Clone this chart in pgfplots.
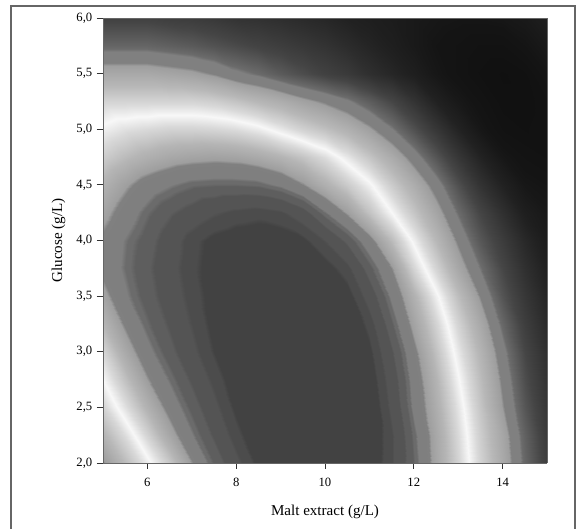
\documentclass[border=0pt]{standalone}
\usepackage{fontspec}
\setmainfont{Liberation Serif}
\usepackage{pgfplots}
\pgfplotsset{compat=1.18}

% grey level of the bands, keyed on the response level (x10)
\pgfplotsset{colormap={bands}{[1pt]
  gray(0)=(.26); gray(11)=(.26); gray(12)=(.3); gray(15)=(.3); gray(16)=(.33);
  gray(21)=(.33); gray(22)=(.37); gray(25)=(.37); gray(26)=(.42); gray(27)=(.42);
  gray(28)=(.5); gray(33)=(.5); gray(34)=(.62); gray(40)=(.71); gray(46)=(.85);
  gray(50)=(.97); gray(54)=(.85); gray(60)=(.72); gray(67)=(.62); gray(68)=(.5);
  gray(72)=(.5); gray(73)=(.42); gray(80)=(.27); gray(85)=(.2); gray(90)=(.13);
  gray(95)=(.08); gray(100)=(.06)}}

\begin{document}
\begin{tikzpicture}
\begin{axis}[
  at={(0pt,0pt)}, anchor=south west,
  scale only axis,
  width=333pt, height=333.75pt,
  view={0}{90},
  xmin=5, xmax=15, ymin=2, ymax=6,
  xtick={6,8,10,12,14},
  ytick={2,2.5,...,6},
  yticklabels={{2,0},{2,5},{3,0},{3,5},{4,0},{4,5},{5,0},{5,5},{6,0}},
  tick align=outside,
  tick style={black!80, line width=0.6pt},
  major tick length=4.5pt,
  xtick pos=bottom, ytick pos=left,
  axis line style={draw=black!60, line width=0.5pt},
  ticklabel style={font=\fontsize{9.5}{10}\selectfont},
  xticklabel style={yshift=-3pt},
  /pgf/number format/assume math mode=true,
  xlabel={Malt extract (g/L)},
  ylabel={Glucose (g/L)},
  label style={font=\fontsize{11.3}{12}\selectfont},
  xlabel style={yshift=-7.5pt},
  ylabel style={yshift=1.5pt},
  colormap name=bands,
  point meta min=0, point meta max=100,
]
\addplot3[surf, shader=interp, mesh/cols=21, mesh/ordering=x varies, point meta=\thisrow{z}*10] table[x=x,y=y,z=z,col sep=space] {
x y z
5 2 6.8
5.5 2 5.95
6 2 5.15
6.5 2 4.3
7 2 3.35
7.5 2 2.5
8 2 1.7
8.5 2 1.0
9 2 .5
9.5 2 .3
10 2 .3
10.5 2 .4
11 2 .7
11.5 2 1.5
12 2 2.55
12.5 2 3.6
13 2 4.5
13.5 2 5.5
14 2 6.4
14.5 2 7.4
15 2 8.2
5 2.25 6.1
5.5 2.25 5.35
6 2.25 4.5
6.5 2.25 3.6
7 2.25 2.8
7.5 2.25 2.05
8 2.25 1.3
8.5 2.25 .7
9 2.25 .4
9.5 2.25 .25
10 2.25 .25
10.5 2.25 .35
11 2.25 .65
11.5 2.25 1.5
12 2.25 2.65
12.5 2.25 3.65
13 2.25 4.6
13.5 2.25 5.6
14 2.25 6.5
14.5 2.25 7.5
15 2.25 8.3
5 2.5 5.5
5.5 2.5 4.7
6 2.5 3.9
6.5 2.5 3.1
7 2.5 2.4
7.5 2.5 1.7
8 2.5 1.0
8.5 2.5 .55
9 2.5 .3
9.5 2.5 .2
10 2.5 .2
10.5 2.5 .3
11 2.5 .65
11.5 2.5 1.7
12 2.5 2.9
12.5 2.5 3.8
13 2.5 4.75
13.5 2.5 5.75
14 2.5 6.75
14.5 2.5 7.7
15 2.5 8.4
5 2.75 5.0
5.5 2.75 4.2
6 2.75 3.4
6.5 2.75 2.7
7 2.75 2.05
7.5 2.75 1.4
8 2.75 .8
8.5 2.75 .45
9 2.75 .25
9.5 2.75 .15
10 2.75 .15
10.5 2.75 .3
11 2.75 .8
11.5 2.75 1.85
12 2.75 3.0
12.5 2.75 3.95
13 2.75 4.95
13.5 2.75 5.9
14 2.75 6.9
14.5 2.75 7.85
15 2.75 8.5
5 3 4.55
5.5 3 3.7
6 3 2.95
6.5 3 2.3
7 3 1.7
7.5 3 1.1
8 3 .65
8.5 3 .35
9 3 .2
9.5 3 .15
10 3 .2
10.5 3 .4
11 3 1.0
11.5 3 2.1
12 3 3.2
12.5 3 4.2
13 3 5.2
13.5 3 6.1
14 3 7.1
14.5 3 8.0
15 3 8.6
5 3.25 4.0
5.5 3.25 3.25
6 3.25 2.6
6.5 3.25 2.05
7 3.25 1.5
7.5 3.25 .95
8 3.25 .6
8.5 3.25 .35
9 3.25 .2
9.5 3.25 .2
10 3.25 .3
10.5 3.25 .6
11 3.25 1.3
11.5 3.25 2.5
12 3.25 3.55
12.5 3.25 4.5
13 3.25 5.5
13.5 3.25 6.4
14 3.25 7.4
14.5 3.25 8.2
15 3.25 8.75
5 3.5 3.55
5.5 3.5 2.85
6 3.5 2.35
6.5 3.5 1.85
7 3.5 1.35
7.5 3.5 .9
8 3.5 .6
8.5 3.5 .4
9 3.5 .3
9.5 3.5 .3
10 3.5 .5
10.5 3.5 .9
11 3.5 1.8
11.5 3.5 2.9
12 3.5 3.9
12.5 3.5 4.9
13 3.5 5.9
13.5 3.5 6.8
14 3.5 7.75
14.5 3.5 8.4
15 3.5 8.9
5 3.75 3.15
5.5 3.75 2.7
6 3.75 2.25
6.5 3.75 1.75
7 3.75 1.25
7.5 3.75 .9
8 3.75 .7
8.5 3.75 .55
9 3.75 .55
9.5 3.75 .7
10 3.75 .9
10.5 3.75 1.4
11 3.75 2.4
11.5 3.75 3.35
12 3.75 4.55
12.5 3.75 5.5
13 3.75 6.45
13.5 3.75 7.25
14 3.75 8.0
14.5 3.75 8.6
15 3.75 9.05
5 4 3.2
5.5 4 2.75
6 4 2.35
6.5 4 1.85
7 4 1.3
7.5 4 .95
8 4 .8
8.5 4 .75
9 4 .8
9.5 4 1.0
10 4 1.55
10.5 4 2.25
11 4 3.1
11.5 4 4.1
12 4 5.1
12.5 4 6.0
13 4 6.85
13.5 4 7.65
14 4 8.25
14.5 4 8.8
15 4 9.2
5 4.25 3.55
5.5 4.25 3.05
6 4.25 2.6
6.5 4.25 2.2
7 4.25 1.9
7.5 4.25 1.6
8 4.25 1.4
8.5 4.25 1.3
9 4.25 1.45
9.5 4.25 1.9
10 4.25 2.7
10.5 4.25 3.4
11 4.25 4.2
11.5 4.25 5.0
12 4.25 5.75
12.5 4.25 6.5
13 4.25 7.3
13.5 4.25 8.0
14 4.25 8.6
14.5 4.25 9.1
15 4.25 9.35
5 4.5 3.9
5.5 4.5 3.45
6 4.5 3.05
6.5 4.5 2.8
7 4.5 2.6
7.5 4.5 2.55
8 4.5 2.55
8.5 4.5 2.6
9 4.5 2.85
9.5 4.5 3.3
10 4.5 3.85
10.5 4.5 4.35
11 4.5 4.9
11.5 4.5 5.65
12 4.5 6.3
12.5 4.5 7.0
13 4.5 7.8
13.5 4.5 8.5
14 4.5 9.0
14.5 4.5 9.4
15 4.5 9.5
5 4.75 4.4
5.5 4.75 4.1
6 4.75 3.85
6.5 4.75 3.65
7 4.75 3.55
7.5 4.75 3.5
8 4.75 3.55
8.5 4.75 3.7
9 4.75 3.95
9.5 4.75 4.25
10 4.75 4.65
10.5 4.75 5.2
11 4.75 5.75
11.5 4.75 6.35
12 4.75 7.0
12.5 4.75 7.7
13 4.75 8.4
13.5 4.75 8.95
14 4.75 9.4
14.5 4.75 9.6
15 4.75 9.7
5 5 4.9
5.5 5 4.7
6 5 4.6
6.5 5 4.5
7 5 4.5
7.5 5 4.55
8 5 4.65
8.5 5 4.85
9 5 5.2
9.5 5 5.55
10 5 5.85
10.5 5 6.2
11 5 6.65
11.5 5 7.2
12 5 7.8
12.5 5 8.4
13 5 8.95
13.5 5 9.4
14 5 9.7
14.5 5 9.8
15 5 9.7
5 5.25 5.5
5.5 5.25 5.5
6 5.25 5.5
6.5 5.25 5.5
7 5.25 5.5
7.5 5.25 5.6
8 5.25 5.8
8.5 5.25 6.05
9 5.25 6.3
9.5 5.25 6.6
10 5.25 6.85
10.5 5.25 7.15
11 5.25 7.55
11.5 5.25 8.0
12 5.25 8.5
12.5 5.25 9.0
13 5.25 9.35
13.5 5.25 9.6
14 5.25 9.85
14.5 5.25 9.85
15 5.25 9.7
5 5.5 6.4
5.5 5.5 6.4
6 5.5 6.4
6.5 5.5 6.5
7 5.5 6.6
7.5 5.5 6.8
8 5.5 7.1
8.5 5.5 7.3
9 5.5 7.6
9.5 5.5 7.85
10 5.5 8.1
10.5 5.5 8.3
11 5.5 8.6
11.5 5.5 8.85
12 5.5 9.1
12.5 5.5 9.4
13 5.5 9.6
13.5 5.5 9.8
14 5.5 9.9
14.5 5.5 9.8
15 5.5 9.5
5 5.75 7.4
5.5 5.75 7.4
6 5.75 7.4
6.5 5.75 7.5
7 5.75 7.6
7.5 5.75 7.75
8 5.75 7.9
8.5 5.75 8.05
9 5.75 8.2
9.5 5.75 8.35
10 5.75 8.5
10.5 5.75 8.7
11 5.75 8.9
11.5 5.75 9.1
12 5.75 9.3
12.5 5.75 9.5
13 5.75 9.6
13.5 5.75 9.7
14 5.75 9.7
14.5 5.75 9.5
15 5.75 9.3
5 6 8.1
5.5 6 8.1
6 6 8.1
6.5 6 8.2
7 6 8.25
7.5 6 8.35
8 6 8.5
8.5 6 8.55
9 6 8.65
9.5 6 8.75
10 6 8.85
10.5 6 9.0
11 6 9.1
11.5 6 9.2
12 6 9.3
12.5 6 9.4
13 6 9.45
13.5 6 9.45
14 6 9.4
14.5 6 9.3
15 6 9.1
};
\end{axis}
% outer frame of the figure
\useasboundingbox (-77.25pt,-49.5pt) rectangle (354.75pt,347.25pt);
\draw[black!60, line width=1.4pt] (-69pt,-49.5pt) -- (-69pt,342.75pt) -- (354pt,342.75pt) -- (354pt,-49.5pt);
\end{tikzpicture}
\end{document}
